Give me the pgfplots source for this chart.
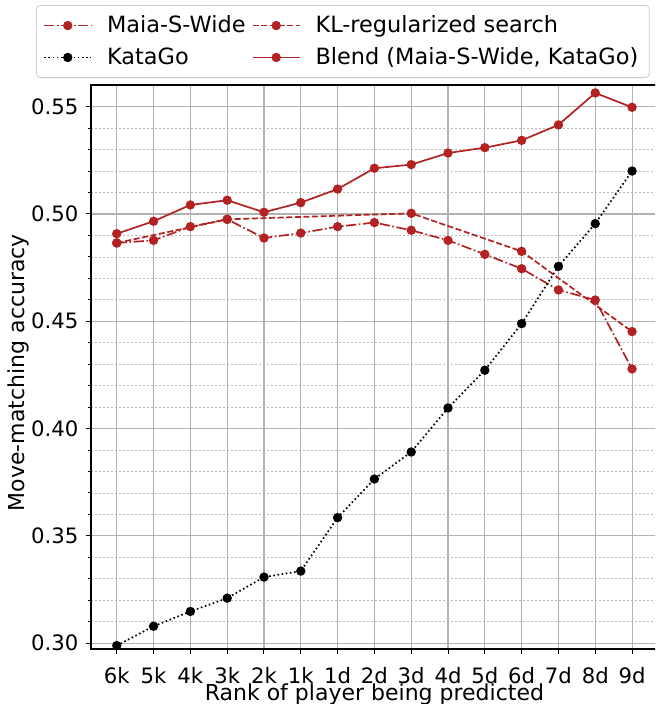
\documentclass[border=0pt]{standalone}
\usepackage{fontspec}
\setmainfont{DejaVu Sans}
\usepackage{pgfplots}
\pgfplotsset{compat=1.18}
\definecolor{fb}{RGB}{178,34,34}
\begin{document}
\fontsize{11}{13.2}\selectfont
\begin{tikzpicture}
\clip (0,0) rectangle (327.5pt,352pt);
\begin{axis}[
  at={(45.5pt,27.5pt)}, anchor=south west,
  width=283.4pt, height=282pt, scale only axis,
  xmin=-0.7, xmax=14.7, ymin=0.2973, ymax=0.5601,
  xtick={0,...,14},
  xticklabels={6k,5k,4k,3k,2k,1k,1d,2d,3d,4d,5d,6d,7d,8d,9d},
  ytick={0.30,0.35,0.40,0.45,0.50,0.55},
  minor y tick num=4,
  grid=both,
  major grid style={color=black!30, line width=0.55pt},
  minor grid style={color=black!28, line width=0.35pt, dash pattern=on 1.2pt off 0.8pt},
  tick align=outside, tick pos=left,
  major tick length=2.5pt, minor tick length=1.5pt,
  tick style={black, line width=0.5pt},
  axis line style={line width=0.6pt},
  xlabel={Rank of player being predicted},
  ylabel={Move-matching accuracy},
  xlabel style={at={(axis description cs:0.5,0)}, anchor=center, yshift=-22.6pt},
  ylabel style={at={(axis description cs:0,0.49)}, anchor=center, yshift=36.5pt},
  label style={font=\fontsize{11}{13.2}\selectfont},
  tick label style={font=\fontsize{10.6}{12.7}\selectfont},
  xticklabel style={yshift=-2.8pt},
  /pgf/number format/assume math mode=true,
  yticklabel style={/pgf/number format/.cd, fixed, fixed zerofill, precision=2},
  legend columns=2,
  legend cell align=left,
  legend style={at={(axis description cs:-0.097,1.1418)}, anchor=north west,
    draw=black!20, rounded corners=2pt, fill=white, inner xsep=3.5pt, inner ysep=3pt,
    row sep=1.8pt,
    font=\fontsize{11.2}{13.4}\selectfont,
    /tikz/every odd column/.append style={column sep=5.5pt},
    /tikz/every even column/.append style={column sep=1.2pt}},
  legend image code/.code={\draw[mark repeat=2,mark phase=2,#1] plot coordinates {(0pt,0pt) (11.75pt,0pt) (23.5pt,0pt)};},
  every axis plot/.append style={line width=0.85pt, mark=*, mark size=1.9pt, mark options={solid}},
]
\addplot[color=fb, dash pattern=on 5.1pt off 1.3pt on 0.8pt off 1.3pt] coordinates {
(0,0.4865) (1,0.4877) (2,0.4941) (3,0.4975) (4,0.4888) (5,0.4911) (6,0.4941) (7,0.4960)
(8,0.4924) (9,0.4877) (10,0.4812) (11,0.4745) (12,0.4646) (13,0.4599) (14,0.4278)};
\addlegendentry{Maia-S-Wide}
\addplot[color=fb, dash pattern=on 3pt off 1.3pt] coordinates {
(0,0.4865) (3,0.4975) (8,0.5003) (11,0.4826) (14,0.4452)};
\addlegendentry{KL-regularized search}
\addplot[color=black, dash pattern=on 0.8pt off 1.3pt] coordinates {
(0,0.2989) (1,0.3079) (2,0.3148) (3,0.3210) (4,0.3308) (5,0.3336) (6,0.3585) (7,0.3765)
(8,0.3891) (9,0.4096) (10,0.4272) (11,0.4489) (12,0.4756) (13,0.4955) (14,0.5200)};
\addlegendentry{KataGo}
\addplot[color=fb] coordinates {
(0,0.4908) (1,0.4966) (2,0.5042) (3,0.5064) (4,0.5008) (5,0.5053) (6,0.5116) (7,0.5213)
(8,0.5230) (9,0.5284) (10,0.5309) (11,0.5343) (12,0.5415) (13,0.5564) (14,0.5497)};
\addlegendentry{Blend (Maia-S-Wide, KataGo)}
\end{axis}
\end{tikzpicture}
\end{document}
